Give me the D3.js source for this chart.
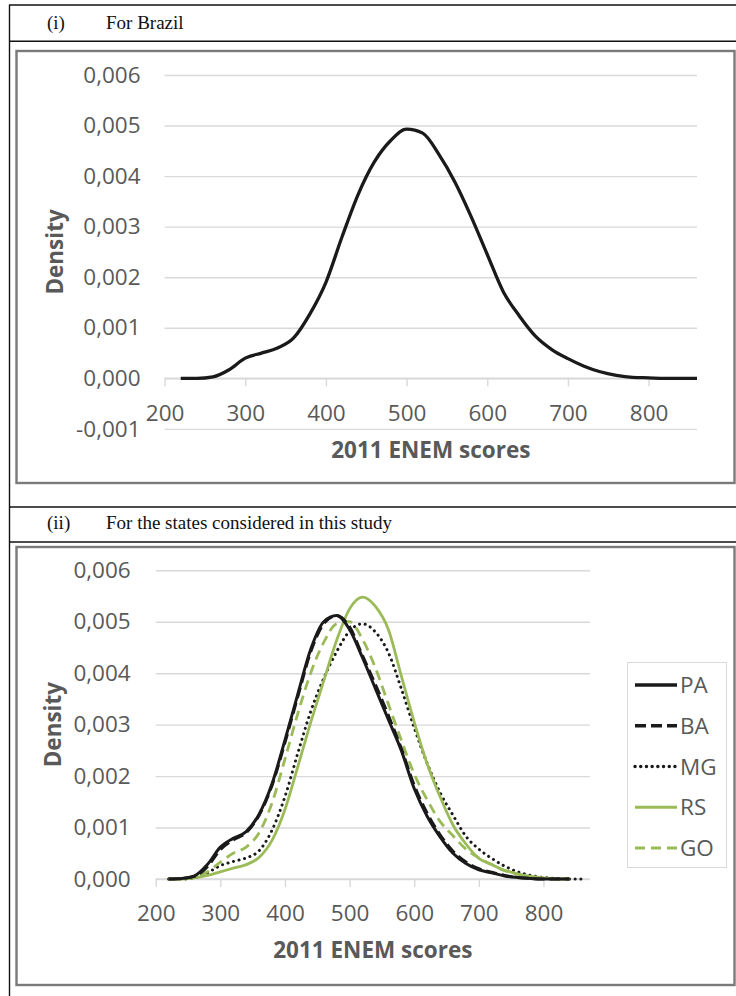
<!DOCTYPE html>
<html><head><meta charset="utf-8">
<script src="https://cdn.jsdelivr.net/npm/d3@7"></script>
<style>body{margin:0;background:#fff}svg{display:block}</style>
</head><body><svg id="c" width="736" height="996"></svg>
<script>
// ---------------- data ----------------
const panelTitles = ["For Brazil", "For the states considered in this study"];
const panelNumbers = ["(i)", "(ii)"];
const xTitle = "2011 ENEM scores";
const yTitle = "Density";

const scores = [220,240,260,280,300,320,340,360,380,400,420,440,460,480,500,520,540,560,580,600,620,640,660,680,700,720,740,760,780,800,820,840,860];

const brazil = [0,0,0.00003,0.00017,0.0004,0.0005,0.0006,0.0008,0.00127,0.0019,0.0028,0.00364,0.00428,0.0047,0.00493,0.00485,0.00443,0.00388,0.0032,0.00245,0.00171,0.00123,0.00083,0.00057,0.00039,0.00024,0.00013,0.00006,0.00002,0.00001,0,0,0];

const stateNames = ["PA","BA","MG","RS","GO"];
const pa = [0,0.00001,0.00006,0.00028,0.00062,0.00079,0.00092,0.00126,0.00185,0.0027,0.0036,0.00447,0.005,0.00512,0.00485,0.0043,0.0037,0.0031,0.0025,0.00176,0.00122,0.00082,0.0005,0.0003,0.00018,0.00012,0.00006,0.00003,0.00001,0,0,0,null];
const ba = [0,0.00001,0.00005,0.00024,0.00057,0.00076,0.0009,0.00124,0.00182,0.00265,0.00355,0.00442,0.00496,0.00512,0.0049,0.00434,0.00378,0.00318,0.00254,0.00182,0.00128,0.00086,0.00054,0.00033,0.0002,0.00013,0.00007,0.00003,0.00001,0,0,0,null];
const mg = [0,0,0.00002,0.00012,0.00026,0.00034,0.00041,0.00055,0.00095,0.0016,0.00245,0.00326,0.0039,0.00442,0.00482,0.00496,0.0048,0.0044,0.0037,0.00294,0.00225,0.00168,0.00124,0.00083,0.00058,0.0004,0.00025,0.00014,0.00007,0.00003,0.00001,0,0];
const rs = [0,0,0.00002,0.00007,0.00014,0.00021,0.00028,0.00042,0.00075,0.00135,0.00219,0.00305,0.00385,0.00464,0.00525,0.00548,0.0053,0.00485,0.00395,0.00305,0.00224,0.0016,0.00105,0.00068,0.0004,0.00028,0.00017,0.0001,0.00005,0.00002,0,0,null];
const go = [0,0,0.00003,0.00014,0.00033,0.0005,0.00062,0.0009,0.00148,0.00233,0.00322,0.00401,0.0046,0.00496,0.005,0.00466,0.0041,0.0034,0.0027,0.00204,0.00154,0.00112,0.00084,0.00058,0.00041,0.00028,0.00016,0.00009,0.00005,0.00002,0.00001,0,null];

const xTickValues = [200,300,400,500,600,700,800];
const yTickValuesTop = [-0.001,0,0.001,0.002,0.003,0.004,0.005,0.006];
const yTickValuesBottom = [0,0.001,0.002,0.003,0.004,0.005,0.006];

// ---------------- styles ----------------
const GREEN = "#9bbb59", BLACK = "#1a1a1a", GRID = "#d9d9d9", TXT = "#595959";
const FONT = "'Open Sans', sans-serif";
const seriesStyle = {
  PA: {color: BLACK, dash: null, width: 3, cap: "butt"},
  BA: {color: BLACK, dash: "11,5", width: 3, cap: "butt"},
  MG: {color: BLACK, dash: "0.1,5.6", width: 3, cap: "round"},
  RS: {color: GREEN, dash: null, width: 2.8, cap: "butt"},
  GO: {color: GREEN, dash: "10,6", width: 2.8, cap: "butt"}
};
const stateValues = {PA: pa, BA: ba, MG: mg, RS: rs, GO: go};

const locale = d3.formatLocale({decimal: ",", thousands: ".", grouping: [3], currency: ["", ""], minus: "-"});
const fmt = locale.format(".3f");

const svg = d3.select("#c");

// ---------------- outer table ----------------
const tbl = svg.append("g").attr("stroke", "#111").attr("stroke-width", 1.4);
[5, 41.3, 507, 542].forEach(y => tbl.append("line").attr("x1", 9).attr("x2", 736).attr("y1", y).attr("y2", y));
tbl.append("line").attr("x1", 9.5).attr("x2", 9.5).attr("y1", 5).attr("y2", 996);

[[29, 0], [529, 1]].forEach(([y, i]) => {
  svg.append("text").attr("x", 47).attr("y", y).text(panelNumbers[i])
    .attr("font-family", "'Liberation Serif', serif").attr("font-size", 19).attr("fill", "#111");
  svg.append("text").attr("x", 106).attr("y", y).text(panelTitles[i])
    .attr("font-family", "'Liberation Serif', serif").attr("font-size", 19).attr("fill", "#111");
});

// inner chart boxes
[[51, 483], [547, 985]].forEach(([y0, y1]) => {
  svg.append("rect").attr("x", 16.5).attr("y", y0).attr("width", 718).attr("height", y1 - y0)
    .attr("fill", "none").attr("stroke", "#7a7a7a").attr("stroke-width", 2.4);
});

// ---------------- chart helper ----------------
function drawChart(cfg) {
  const {x, y, yTicks, labelPad, xPad, titleY, ytitleX} = cfg;
  const g = svg.append("g");
  const [x0, x1] = x.range();
  const ya = g.append("g").attr("transform", `translate(${x0},0)`)
    .call(d3.axisLeft(y).tickValues(yTicks).tickFormat(fmt).tickSize(-(x1 - x0)).tickPadding(labelPad));
  ya.select(".domain").remove();
  ya.selectAll(".tick line").attr("stroke", GRID).attr("stroke-width", 1.4);
  ya.selectAll(".tick text").attr("fill", TXT).attr("font-family", FONT).attr("font-size", 22.5);
  const xa = g.append("g").attr("transform", `translate(0,${y(0)})`)
    .call(d3.axisBottom(x).tickValues(xTickValues).tickSize(8).tickPadding(xPad));
  xa.select(".domain").attr("stroke", GRID).attr("stroke-width", 1.6).attr("d", `M${x0},0H${x1}`);
  xa.selectAll(".tick line").attr("stroke", GRID).attr("stroke-width", 1.4);
  xa.selectAll(".tick text").attr("fill", TXT).attr("font-family", FONT).attr("font-size", 22.5);
  g.append("text").attr("x", (x0 + x1) / 2).attr("y", titleY).attr("text-anchor", "middle")
    .attr("font-family", FONT).attr("font-weight", "bold").attr("font-size", 22.5).attr("fill", TXT).text(xTitle);
  const [yb, yt] = y.range();
  g.append("text").attr("transform", `translate(${ytitleX},${(yb + yt) / 2}) rotate(-90)`)
    .attr("text-anchor", "middle").attr("dy", "0.35em")
    .attr("font-family", FONT).attr("font-weight", "bold").attr("font-size", 22.5).attr("fill", TXT).text(yTitle);
  return g;
}

// ---------------- panel (i) ----------------
const xTop = d3.scaleLinear().domain([200, 860]).range([164.6, 697]);
const yTop = d3.scaleLinear().domain([-0.001, 0.006]).range([428.9, 75]);
const gTop = drawChart({x: xTop, y: yTop, yTicks: yTickValuesTop, labelPad: 24, xPad: 18.5, titleY: 458, ytitleX: 55});
const lineTop = d3.line().x((d, i) => xTop(scores[i])).y(d => yTop(d)).curve(d3.curveMonotoneX);
gTop.append("path").attr("d", lineTop(brazil)).attr("fill", "none")
  .attr("stroke", BLACK).attr("stroke-width", 3.3).attr("stroke-linejoin", "round");

// ---------------- panel (ii) ----------------
const xBot = d3.scaleLinear().domain([200, 872]).range([155.7, 590]);
const yBot = d3.scaleLinear().domain([0, 0.006]).range([879, 570.3]);
const gBot = drawChart({x: xBot, y: yBot, yTicks: yTickValuesBottom, labelPad: 25, xPad: 18.3, titleY: 958, ytitleX: 53});
const lineBot = d3.line().defined(d => d !== null).x((d, i) => xBot(scores[i])).y(d => yBot(d)).curve(d3.curveMonotoneX);
["MG", "GO", "RS", "BA", "PA"].forEach(name => {
  const s = seriesStyle[name];
  gBot.append("path").attr("d", lineBot(stateValues[name])).attr("fill", "none")
    .attr("stroke", s.color).attr("stroke-width", s.width).attr("stroke-linecap", s.cap)
    .attr("stroke-linejoin", "round").attr("stroke-dasharray", s.dash);
});

// legend
const leg = svg.append("g");
leg.append("rect").attr("x", 627.5).attr("y", 662.5).attr("width", 99).attr("height", 205)
  .attr("fill", "#fff").attr("stroke", GRID).attr("stroke-width", 1);
const legY = d3.scalePoint().domain(stateNames).range([685, 848]);
stateNames.forEach(name => {
  const s = seriesStyle[name];
  const yy = legY(name);
  leg.append("line").attr("x1", 635).attr("x2", 677).attr("y1", yy).attr("y2", yy)
    .attr("stroke", s.color).attr("stroke-width", s.width + 0.4).attr("stroke-linecap", s.cap)
    .attr("stroke-dasharray", s.dash);
  leg.append("text").attr("x", 680).attr("y", yy).attr("dy", "0.36em").text(name)
    .attr("font-family", FONT).attr("font-size", 22.5).attr("fill", TXT);
});
</script></body></html>
